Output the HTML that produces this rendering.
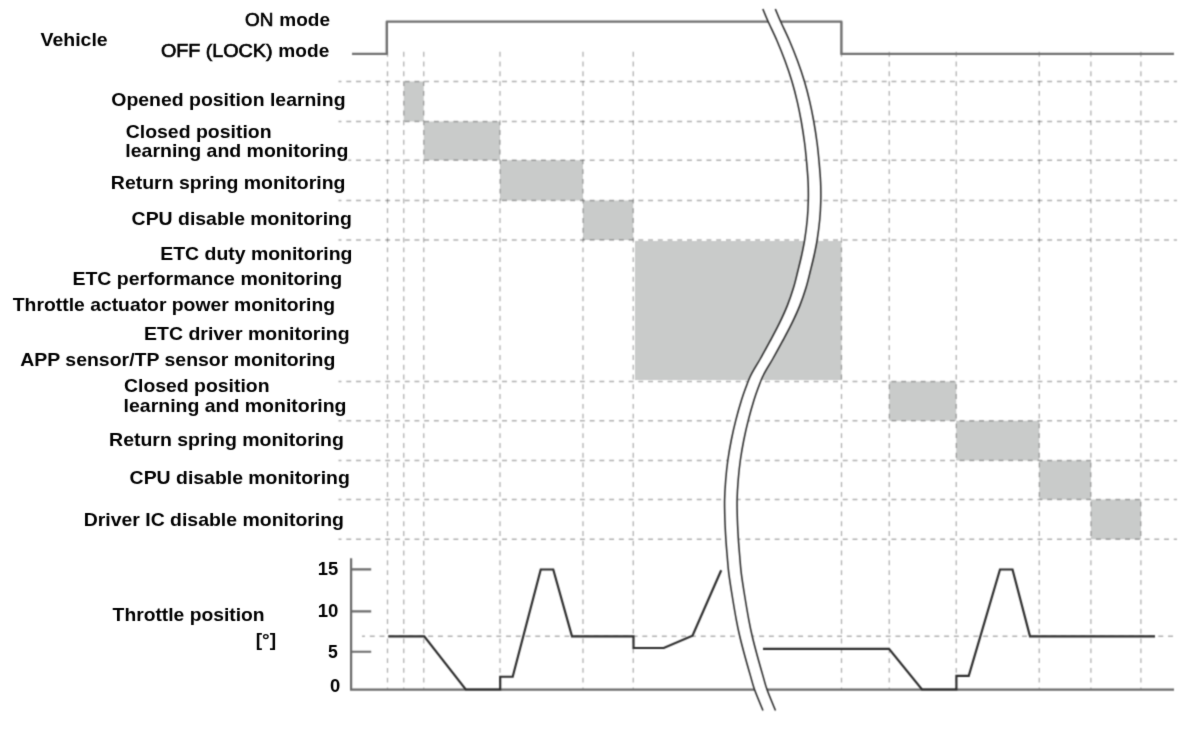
<!DOCTYPE html>
<html lang="en">
<head>
<meta charset="utf-8">
<title>ETC monitoring timing chart</title>
<style>
html,body{margin:0;padding:0;background:#fff;}
body{width:1200px;height:731px;overflow:hidden;position:relative;}
svg{position:absolute;left:0;top:0;display:block;}
text{font-family:"Liberation Sans",sans-serif;font-weight:bold;font-size:19.0px;fill:#000;}
.g{stroke:#000;stroke-opacity:0.31;stroke-width:1.3;stroke-dasharray:4.9 4.835;stroke-dashoffset:1.93;fill:none;}
.gv{stroke:#000;stroke-opacity:0.31;stroke-width:1.3;stroke-dasharray:4.9 4.88;fill:none;}
.bx{fill:#c9cbca;}
.veh{stroke:#6f6f6f;stroke-width:2.4;fill:none;stroke-linejoin:round;}
.ax{stroke:#6a6a6a;stroke-width:2.2;fill:none;}
.thr{stroke:#2b2b2b;stroke-width:2.15;fill:none;stroke-linejoin:miter;}
.brk{stroke:#262626;stroke-width:1.5;fill:none;}
.band{fill:#fff;stroke:none;}
.med{font-weight:normal;stroke:#000;stroke-width:0.7px;}
</style>
</head>
<body>
<svg width="1200" height="731" viewBox="0 0 1200 731">
<defs><filter id="soft" x="0" y="0" width="1200" height="731" filterUnits="userSpaceOnUse" color-interpolation-filters="sRGB"><feConvolveMatrix order="3" kernelMatrix="0.04 0.12 0.04 0.12 0.36 0.12 0.04 0.12 0.04" divisor="1" edgeMode="duplicate" preserveAlpha="false"/></filter><filter id="softT" x="0" y="0" width="1200" height="731" filterUnits="userSpaceOnUse" color-interpolation-filters="sRGB"><feConvolveMatrix order="3" kernelMatrix="0.0100 0.0800 0.0100 0.0800 0.6400 0.0800 0.0100 0.0800 0.0100" divisor="1" edgeMode="duplicate" preserveAlpha="false"/></filter></defs>

<g id="art" filter="url(#soft)">
<g class="bx">
<rect x="403.75" y="81.5" width="20.0" height="40.0"/>
<rect x="423.75" y="121.5" width="76.25" height="38.75"/>
<rect x="500" y="160.25" width="83" height="40.25"/>
<rect x="583" y="200.5" width="50.25" height="39.5"/>
<rect x="635" y="241" width="206.5" height="139"/>
<rect x="889.25" y="381.5" width="67.0" height="39.25"/>
<rect x="956.25" y="420.75" width="83.0" height="39.75"/>
<rect x="1039.25" y="460.5" width="51.65000000000009" height="39.0"/>
<rect x="1090.9" y="499.5" width="50.0" height="39.75"/>
</g>
<g class="g">
<line x1="338.5" y1="81.5" x2="1177" y2="81.5"/>
<line x1="338.5" y1="121.5" x2="1177" y2="121.5"/>
<line x1="348.25" y1="160.25" x2="1177" y2="160.25" style="stroke-dashoffset:1.945"/>
<line x1="338.5" y1="200.5" x2="1177" y2="200.5"/>
<line x1="338.5" y1="240" x2="1177" y2="240"/>
<line x1="338.5" y1="381.5" x2="1177" y2="381.5"/>
<line x1="338.5" y1="420.75" x2="1177" y2="420.75"/>
<line x1="338.5" y1="460.5" x2="1177" y2="460.5"/>
<line x1="338.5" y1="499.5" x2="1177" y2="499.5"/>
<line x1="338.5" y1="539.25" x2="1177" y2="539.25"/>
<line x1="362" y1="636.25" x2="1177" y2="636.25"/>
</g>
<g class="gv">
<line x1="387.5" y1="51.8" x2="387.5" y2="689"/>
<line x1="403.75" y1="51.8" x2="403.75" y2="689"/>
<line x1="423.75" y1="51.8" x2="423.75" y2="689"/>
<line x1="500" y1="51.8" x2="500" y2="689"/>
<line x1="583" y1="51.8" x2="583" y2="689"/>
<line x1="633.25" y1="51.8" x2="633.25" y2="689"/>
<line x1="841.5" y1="51.8" x2="841.5" y2="689"/>
<line x1="889.25" y1="51.8" x2="889.25" y2="689"/>
<line x1="956.25" y1="51.8" x2="956.25" y2="689"/>
<line x1="1039.25" y1="51.8" x2="1039.25" y2="689"/>
<line x1="1090.9" y1="51.8" x2="1090.9" y2="689"/>
<line x1="1140.9" y1="51.8" x2="1140.9" y2="689"/>
</g>
<path class="veh" d="M352,53.9 H386.8 V21.65 H841.4 V53.9 H1174"/>
<path class="ax" d="M351.1,558.3 V689.7 H1174"/>
<path class="ax" d="M351,569.4 H371.2 M351,611.3 H371.2 M351,651.75 H371.2"/>
<path class="thr" d="M388.25,636.3 H424.25 L465.75,689.5 H500.2 V676.7 H512.7 L540.75,569.5 H553.25 L572,636.3 H633.5 V648 H663.75 L692.5,635.75 L721.2,570.3"/>
<path class="thr" d="M763,648.9 H889 L922,689.5 H956.4 V675.8 H968.75 L1000,569.5 H1012.5 L1030,636.3 H1155"/>
<path class="band" d="M762.80,9.00 C763.67,11.05 765.62,15.97 768.00,21.30 C770.38,26.63 774.27,34.42 777.10,41.00 C779.93,47.58 782.53,54.08 785.00,60.80 C787.47,67.52 789.85,74.47 791.90,81.30 C793.95,88.13 795.75,95.18 797.30,101.80 C798.85,108.42 799.98,114.13 801.20,121.00 C802.42,127.87 803.70,136.17 804.60,143.00 C805.50,149.83 806.02,155.50 806.60,162.00 C807.18,168.50 807.82,175.55 808.10,182.00 C808.38,188.45 808.45,194.37 808.30,200.70 C808.15,207.03 807.80,213.52 807.20,220.00 C806.60,226.48 805.62,233.77 804.70,239.60 C803.78,245.43 802.80,249.93 801.70,255.00 C800.60,260.07 799.47,264.53 798.10,270.00 C796.73,275.47 795.30,281.87 793.50,287.80 C791.70,293.73 789.67,299.67 787.30,305.60 C784.93,311.53 782.18,317.47 779.30,323.40 C776.42,329.33 773.18,335.27 770.00,341.20 C766.82,347.13 762.72,354.55 760.20,359.00 C757.68,363.45 756.58,364.93 754.90,367.90 C753.22,370.87 751.50,373.83 750.10,376.80 C748.70,379.77 747.93,381.83 746.50,385.70 C745.07,389.57 743.30,394.18 741.50,400.00 C739.70,405.82 737.40,413.93 735.70,420.60 C734.00,427.27 732.62,433.35 731.30,440.00 C729.98,446.65 728.73,453.83 727.80,460.50 C726.87,467.17 726.23,473.42 725.70,480.00 C725.17,486.58 724.73,493.33 724.60,500.00 C724.47,506.67 724.68,513.40 724.90,520.00 C725.12,526.60 725.52,533.60 725.90,539.60 C726.28,545.60 726.72,550.38 727.20,556.00 C727.68,561.62 727.95,566.55 728.80,573.30 C729.65,580.05 731.05,588.75 732.30,596.50 C733.55,604.25 735.05,613.13 736.30,619.80 C737.55,626.47 738.43,630.68 739.80,636.50 C741.17,642.32 742.73,648.18 744.50,654.70 C746.27,661.22 748.73,669.80 750.40,675.60 C752.07,681.40 752.40,683.68 754.50,689.50 C756.60,695.32 761.58,707.00 763.00,710.50 L775.50,710.50 C774.08,707.00 769.10,695.32 767.00,689.50 C764.90,683.68 764.57,681.40 762.90,675.60 C761.23,669.80 758.77,661.22 757.00,654.70 C755.23,648.18 753.67,642.32 752.30,636.50 C750.93,630.68 750.05,626.47 748.80,619.80 C747.55,613.13 746.05,604.25 744.80,596.50 C743.55,588.75 742.15,580.05 741.30,573.30 C740.45,566.55 740.18,561.62 739.70,556.00 C739.22,550.38 738.78,545.60 738.40,539.60 C738.02,533.60 737.62,526.60 737.40,520.00 C737.18,513.40 736.97,506.67 737.10,500.00 C737.23,493.33 737.67,486.58 738.20,480.00 C738.73,473.42 739.37,467.17 740.30,460.50 C741.23,453.83 742.48,446.65 743.80,440.00 C745.12,433.35 746.50,427.27 748.20,420.60 C749.90,413.93 752.20,405.82 754.00,400.00 C755.80,394.18 757.57,389.57 759.00,385.70 C760.43,381.83 761.20,379.77 762.60,376.80 C764.00,373.83 765.72,370.87 767.40,367.90 C769.08,364.93 770.18,363.45 772.70,359.00 C775.22,354.55 779.32,347.13 782.50,341.20 C785.68,335.27 788.92,329.33 791.80,323.40 C794.68,317.47 797.43,311.53 799.80,305.60 C802.17,299.67 804.20,293.73 806.00,287.80 C807.80,281.87 809.23,275.47 810.60,270.00 C811.97,264.53 813.10,260.07 814.20,255.00 C815.30,249.93 816.28,245.43 817.20,239.60 C818.12,233.77 819.10,226.48 819.70,220.00 C820.30,213.52 820.65,207.03 820.80,200.70 C820.95,194.37 820.88,188.45 820.60,182.00 C820.32,175.55 819.68,168.50 819.10,162.00 C818.52,155.50 818.00,149.83 817.10,143.00 C816.20,136.17 814.92,127.87 813.70,121.00 C812.48,114.13 811.35,108.42 809.80,101.80 C808.25,95.18 806.45,88.13 804.40,81.30 C802.35,74.47 799.97,67.52 797.50,60.80 C795.03,54.08 792.43,47.58 789.60,41.00 C786.77,34.42 782.88,26.63 780.50,21.30 C778.12,15.97 776.17,11.05 775.30,9.00 Z"/>
<path class="brk" d="M762.80,9.00 C763.67,11.05 765.62,15.97 768.00,21.30 C770.38,26.63 774.27,34.42 777.10,41.00 C779.93,47.58 782.53,54.08 785.00,60.80 C787.47,67.52 789.85,74.47 791.90,81.30 C793.95,88.13 795.75,95.18 797.30,101.80 C798.85,108.42 799.98,114.13 801.20,121.00 C802.42,127.87 803.70,136.17 804.60,143.00 C805.50,149.83 806.02,155.50 806.60,162.00 C807.18,168.50 807.82,175.55 808.10,182.00 C808.38,188.45 808.45,194.37 808.30,200.70 C808.15,207.03 807.80,213.52 807.20,220.00 C806.60,226.48 805.62,233.77 804.70,239.60 C803.78,245.43 802.80,249.93 801.70,255.00 C800.60,260.07 799.47,264.53 798.10,270.00 C796.73,275.47 795.30,281.87 793.50,287.80 C791.70,293.73 789.67,299.67 787.30,305.60 C784.93,311.53 782.18,317.47 779.30,323.40 C776.42,329.33 773.18,335.27 770.00,341.20 C766.82,347.13 762.72,354.55 760.20,359.00 C757.68,363.45 756.58,364.93 754.90,367.90 C753.22,370.87 751.50,373.83 750.10,376.80 C748.70,379.77 747.93,381.83 746.50,385.70 C745.07,389.57 743.30,394.18 741.50,400.00 C739.70,405.82 737.40,413.93 735.70,420.60 C734.00,427.27 732.62,433.35 731.30,440.00 C729.98,446.65 728.73,453.83 727.80,460.50 C726.87,467.17 726.23,473.42 725.70,480.00 C725.17,486.58 724.73,493.33 724.60,500.00 C724.47,506.67 724.68,513.40 724.90,520.00 C725.12,526.60 725.52,533.60 725.90,539.60 C726.28,545.60 726.72,550.38 727.20,556.00 C727.68,561.62 727.95,566.55 728.80,573.30 C729.65,580.05 731.05,588.75 732.30,596.50 C733.55,604.25 735.05,613.13 736.30,619.80 C737.55,626.47 738.43,630.68 739.80,636.50 C741.17,642.32 742.73,648.18 744.50,654.70 C746.27,661.22 748.73,669.80 750.40,675.60 C752.07,681.40 752.40,683.68 754.50,689.50 C756.60,695.32 761.58,707.00 763.00,710.50"/>
<path class="brk" d="M775.30,9.00 C776.17,11.05 778.12,15.97 780.50,21.30 C782.88,26.63 786.77,34.42 789.60,41.00 C792.43,47.58 795.03,54.08 797.50,60.80 C799.97,67.52 802.35,74.47 804.40,81.30 C806.45,88.13 808.25,95.18 809.80,101.80 C811.35,108.42 812.48,114.13 813.70,121.00 C814.92,127.87 816.20,136.17 817.10,143.00 C818.00,149.83 818.52,155.50 819.10,162.00 C819.68,168.50 820.32,175.55 820.60,182.00 C820.88,188.45 820.95,194.37 820.80,200.70 C820.65,207.03 820.30,213.52 819.70,220.00 C819.10,226.48 818.12,233.77 817.20,239.60 C816.28,245.43 815.30,249.93 814.20,255.00 C813.10,260.07 811.97,264.53 810.60,270.00 C809.23,275.47 807.80,281.87 806.00,287.80 C804.20,293.73 802.17,299.67 799.80,305.60 C797.43,311.53 794.68,317.47 791.80,323.40 C788.92,329.33 785.68,335.27 782.50,341.20 C779.32,347.13 775.22,354.55 772.70,359.00 C770.18,363.45 769.08,364.93 767.40,367.90 C765.72,370.87 764.00,373.83 762.60,376.80 C761.20,379.77 760.43,381.83 759.00,385.70 C757.57,389.57 755.80,394.18 754.00,400.00 C752.20,405.82 749.90,413.93 748.20,420.60 C746.50,427.27 745.12,433.35 743.80,440.00 C742.48,446.65 741.23,453.83 740.30,460.50 C739.37,467.17 738.73,473.42 738.20,480.00 C737.67,486.58 737.23,493.33 737.10,500.00 C736.97,506.67 737.18,513.40 737.40,520.00 C737.62,526.60 738.02,533.60 738.40,539.60 C738.78,545.60 739.22,550.38 739.70,556.00 C740.18,561.62 740.45,566.55 741.30,573.30 C742.15,580.05 743.55,588.75 744.80,596.50 C746.05,604.25 747.55,613.13 748.80,619.80 C750.05,626.47 750.93,630.68 752.30,636.50 C753.67,642.32 755.23,648.18 757.00,654.70 C758.77,661.22 761.23,669.80 762.90,675.60 C764.57,681.40 764.90,683.68 767.00,689.50 C769.10,695.32 774.08,707.00 775.50,710.50"/>
</g>
<g id="labels" filter="url(#softT)">
<text id="t0" x="40.48" y="46.00" textLength="67.21" lengthAdjust="spacingAndGlyphs">Vehicle</text>
<text id="t1" x="111.35" y="106.00" textLength="234.16" lengthAdjust="spacingAndGlyphs">Opened position learning</text>
<text id="t2" x="125.73" y="138.00" textLength="145.83" lengthAdjust="spacingAndGlyphs">Closed position</text>
<text id="t3" x="125.32" y="157.00" textLength="223.10" lengthAdjust="spacingAndGlyphs">learning and monitoring</text>
<text id="t4" x="110.89" y="189.00" textLength="234.54" lengthAdjust="spacingAndGlyphs">Return spring monitoring</text>
<text id="t5" x="131.61" y="225.00" textLength="220.16" lengthAdjust="spacingAndGlyphs">CPU disable monitoring</text>
<text id="t6" x="160.24" y="260.00" textLength="192.19" lengthAdjust="spacingAndGlyphs">ETC duty monitoring</text>
<text id="t7" x="72.43" y="285.00" textLength="269.77" lengthAdjust="spacingAndGlyphs">ETC performance monitoring</text>
<text id="t8" x="12.82" y="311.00" textLength="322.25" lengthAdjust="spacingAndGlyphs">Throttle actuator power monitoring</text>
<text id="t9" x="144.08" y="340.00" textLength="205.50" lengthAdjust="spacingAndGlyphs">ETC driver monitoring</text>
<text id="t10" x="20.26" y="366.00" textLength="315.08" lengthAdjust="spacingAndGlyphs">APP sensor/TP sensor monitoring</text>
<text id="t11" x="124.06" y="392.00" textLength="145.44" lengthAdjust="spacingAndGlyphs">Closed position</text>
<text id="t12" x="123.61" y="412.00" textLength="222.88" lengthAdjust="spacingAndGlyphs">learning and monitoring</text>
<text id="t13" x="109.08" y="446.00" textLength="234.85" lengthAdjust="spacingAndGlyphs">Return spring monitoring</text>
<text id="t14" x="129.61" y="484.00" textLength="220.16" lengthAdjust="spacingAndGlyphs">CPU disable monitoring</text>
<text id="t15" x="83.65" y="526.00" textLength="260.36" lengthAdjust="spacingAndGlyphs">Driver IC disable monitoring</text>
<text id="t16" x="112.64" y="621.00" textLength="152.00" lengthAdjust="spacingAndGlyphs">Throttle position</text>
<text id="t17" x="255.66" y="646.00" textLength="20.47" lengthAdjust="spacingAndGlyphs">[°]</text>
<text id="t18" x="317.76" y="575.00" textLength="20.46" lengthAdjust="spacingAndGlyphs">15</text>
<text id="t19" x="317.74" y="617.00" textLength="20.69" lengthAdjust="spacingAndGlyphs">10</text>
<text id="t20" x="328.06" y="658.00" textLength="9.81" lengthAdjust="spacingAndGlyphs">5</text>
<text id="t21" x="330.11" y="692.00" textLength="10.26" lengthAdjust="spacingAndGlyphs">0</text>
<text id="t22" class="med" x="245.07" y="26.00" textLength="28.30" lengthAdjust="spacingAndGlyphs">ON</text>
<text id="t23" x="279.27" y="26.00" textLength="50.71" lengthAdjust="spacingAndGlyphs">mode</text>
<text id="t24" class="med" x="160.90" y="57.00" textLength="111.68" lengthAdjust="spacingAndGlyphs">OFF (LOCK)</text>
<text id="t25" x="278.39" y="57.00" textLength="50.89" lengthAdjust="spacingAndGlyphs">mode</text>
</g>
</svg>
</body>
</html>
